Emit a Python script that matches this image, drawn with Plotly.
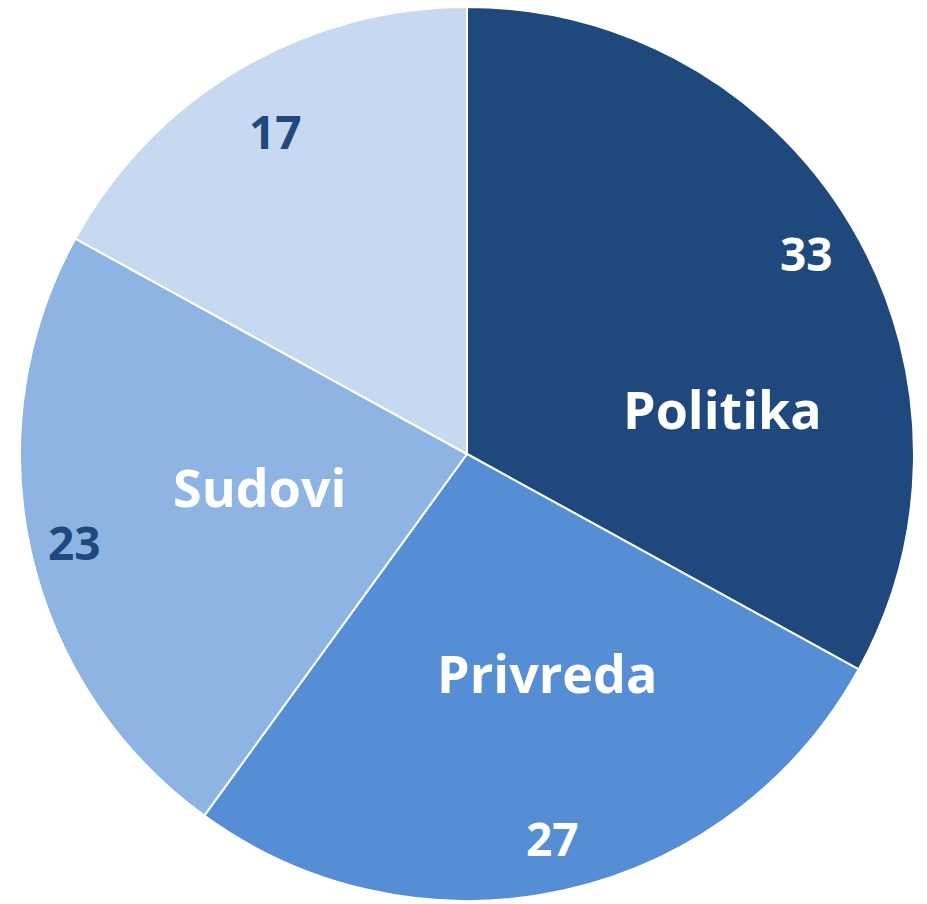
import math
import plotly.graph_objects as go

# Data
categories = ["Politika", "Privreda", "Sudovi", ""]
values = [33, 27, 23, 17]
colors = ["#1F497D", "#558ED5", "#8EB4E3", "#C6D9F1"]
value_text_colors = ["white", "white", "#1F497D", "#1F497D"]

W, H = 927, 904
cx, cy, R = 467, 454, 447

# label placement (fraction of radius) for value labels
value_radius = [0.883, 0.88, 0.90, 0.84]
# name label placement: angle (deg clockwise from top) and radius fraction
name_polar = {"Politika": (79.8, 0.58), "Privreda": (159.9, 0.52), "Sudovi": (261.0, 0.47)}

fig = go.Figure(go.Pie(
    values=values,
    labels=[c if c else "Ostalo" for c in categories],
    sort=False,
    direction="clockwise",
    rotation=0,
    textinfo="none",
    hoverinfo="label+value",
    marker=dict(colors=colors, line=dict(color="white", width=2)),
    domain=dict(x=[(cx - R) / W, (cx + R) / W], y=[1 - (cy + R) / H, 1 - (cy - R) / H]),
    showlegend=False,
))

def to_paper(theta_deg, rfrac):
    t = math.radians(theta_deg)
    px = cx + rfrac * R * math.sin(t)
    py = cy - rfrac * R * math.cos(t)
    return px / W, 1 - py / H

annotations = []
total = sum(values)
cum = 0
for i, v in enumerate(values):
    mid = (cum + v / 2) / total * 360
    cum += v
    x, y = to_paper(mid, value_radius[i])
    annotations.append(dict(x=x, y=y, xref="paper", yref="paper", text=str(v), showarrow=False,
                            font=dict(family="Open Sans", size=46, color=value_text_colors[i], weight="bold"),
                            xanchor="center", yanchor="middle"))
for name, (ang, rf) in name_polar.items():
    x, y = to_paper(ang, rf)
    annotations.append(dict(x=x, y=y, xref="paper", yref="paper", text=name, showarrow=False,
                            font=dict(family="Open Sans", size=52, color="white", weight="bold"),
                            xanchor="center", yanchor="middle"))

fig.update_layout(
    width=W, height=H,
    margin=dict(l=0, r=0, t=0, b=0),
    paper_bgcolor="white", plot_bgcolor="white",
    annotations=annotations,
)
fig.write_html("out.html", config={"displayModeBar": False},
               post_script="document.body.style.margin='0';")
